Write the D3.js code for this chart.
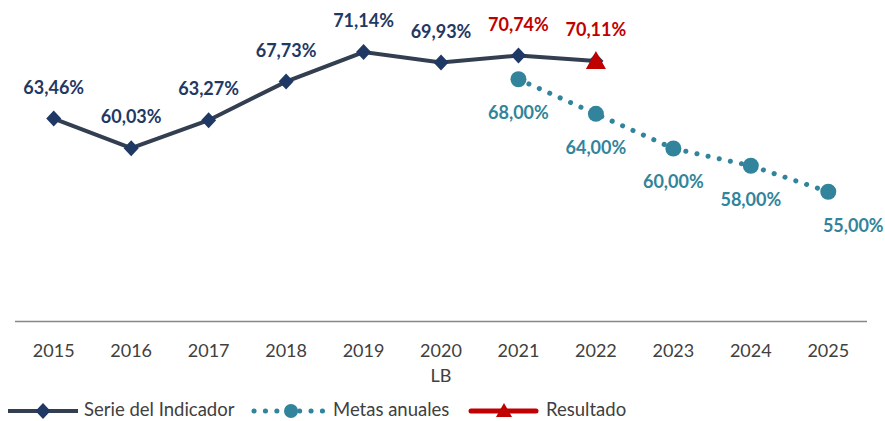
<!DOCTYPE html>
<html lang="es">
<head>
  <meta charset="UTF-8">
  <title>Serie del Indicador</title>
  <style>
    body { margin: 0; background: #fff; }
    svg { display: block; }
  </style>
</head>
<body>
<svg id="chart" width="885" height="421"></svg>
<script src="https://d3js.org/d3.v7.min.js"></script>
<script>
  // datos
  const years = ["2015", "2016", "2017", "2018", "2019", "2020", "2021", "2022", "2023", "2024", "2025"];
  const subLabels = { "2020": "LB" };
  const serieYears = ["2015", "2016", "2017", "2018", "2019", "2020", "2021", "2022"];
  const serieValues = [63.46, 60.03, 63.27, 67.73, 71.14, 69.93, 70.74, 70.11];
  const metasYears = ["2021", "2022", "2023", "2024", "2025"];
  const metasValues = [68.00, 64.00, 60.00, 58.00, 55.00];
  const resultadoYears = ["2022"];
  const resultadoValues = [70.11];
  const redLabelYears = ["2021", "2022"]; // etiquetas de la serie en rojo

  const navy = "#1F3864", lineCol = "#333F50", teal = "#31849B", red = "#C00000";
  const font = "Lato, 'Open Sans', sans-serif";

  const svg = d3.select("#chart");
  const x = d3.scaleBand().domain(years).range([15, 867]);
  const y = d3.scaleLinear().domain([40, 75]).range([321.5, 18.7]);
  const cx = d => x(d) + x.bandwidth() / 2;

  const fmt = v => d3.format(".2f")(v).replace(".", ",") + "%";
  const serie = serieYears.map((d, i) => ({ year: d, v: serieValues[i] }));
  const metas = metasYears.map((d, i) => ({ year: d, v: metasValues[i] }));
  const resultado = resultadoYears.map((d, i) => ({ year: d, v: resultadoValues[i] }));

  // eje x
  svg.append("line")
    .attr("x1", 15).attr("x2", 867)
    .attr("y1", y(40)).attr("y2", y(40))
    .attr("stroke", "#878787").attr("stroke-width", 1.5);

  svg.selectAll(".tick").data(years).join("text")
    .attr("x", cx).attr("y", 357)
    .attr("text-anchor", "middle")
    .attr("font-family", font).attr("font-size", 18)
    .attr("fill", "#404040")
    .text(d => d);

  svg.selectAll(".sub").data(Object.keys(subLabels)).join("text")
    .attr("x", cx).attr("y", 382)
    .attr("text-anchor", "middle")
    .attr("font-family", font).attr("font-size", 18)
    .attr("fill", "#404040")
    .text(d => subLabels[d]);

  const diamond = "M0,-8L7.5,0L0,8L-7.5,0Z";
  const line = d3.line().x(d => cx(d.year)).y(d => y(d.v));

  // metas anuales (punteada)
  svg.append("path").datum(metas)
    .attr("d", line)
    .attr("fill", "none").attr("stroke", teal)
    .attr("stroke-width", 5).attr("stroke-linecap", "round")
    .attr("stroke-dasharray", "0.1 11.3");
  svg.selectAll(".meta").data(metas).join("circle")
    .attr("cx", d => cx(d.year)).attr("cy", d => y(d.v))
    .attr("r", 8).attr("fill", teal);

  // serie del indicador
  svg.append("path").datum(serie)
    .attr("d", line)
    .attr("fill", "none").attr("stroke", lineCol)
    .attr("stroke-width", 4);
  svg.selectAll(".dia").data(serie).join("path")
    .attr("d", diamond)
    .attr("transform", d => `translate(${cx(d.year)},${y(d.v)})`)
    .attr("fill", navy);

  // resultado
  svg.selectAll(".res").data(resultado).join("path")
    .attr("d", "M0,-10L10,8L-10,8Z")
    .attr("transform", d => `translate(${cx(d.year)},${y(d.v)})`)
    .attr("fill", red);

  // etiquetas
  svg.selectAll(".lblS").data(serie).join("text")
    .attr("x", d => cx(d.year)).attr("y", d => y(d.v) - 25)
    .attr("text-anchor", "middle")
    .attr("font-family", font).attr("font-weight", "bold").attr("font-size", 18)
    .attr("fill", d => redLabelYears.includes(d.year) ? red : navy)
    .text(d => fmt(d.v));

  svg.selectAll(".lblM").data(metas).join("text")
    .attr("x", (d, i) => cx(d.year) + (i === metas.length - 1 ? 25 : 0))
    .attr("y", d => y(d.v) + 40)
    .attr("text-anchor", "middle")
    .attr("font-family", font).attr("font-weight", "bold").attr("font-size", 18)
    .attr("fill", teal)
    .text(d => fmt(d.v));

  // leyenda
  const legend = svg.append("g").attr("transform", "translate(0,411)");
  const items = [
    { name: "Serie del Indicador", x0: 8, tx: 76 },
    { name: "Metas anuales", x0: 251, tx: 82 },
    { name: "Resultado", x0: 468, tx: 78 }
  ];
  items.forEach((it, i) => {
    const g = legend.append("g").attr("transform", `translate(${it.x0},0)`);
    if (i === 0) {
      g.append("line").attr("x1", 0).attr("x2", 70).attr("stroke", lineCol).attr("stroke-width", 4);
      g.append("path").attr("d", diamond).attr("transform", "translate(35,0)").attr("fill", navy);
    } else if (i === 1) {
      g.append("line").attr("x1", 3).attr("x2", 72).attr("stroke", teal)
        .attr("stroke-width", 5).attr("stroke-linecap", "round").attr("stroke-dasharray", "0.1 11.3");
      g.append("circle").attr("cx", 40).attr("r", 7).attr("fill", teal);
    } else {
      g.append("line").attr("x1", 3).attr("x2", 68).attr("stroke", red)
        .attr("stroke-width", 5).attr("stroke-linecap", "round");
      g.append("path").attr("d", "M0,-8L8,6L-8,6Z").attr("transform", "translate(36,0)").attr("fill", red);
    }
    g.append("text")
      .attr("x", it.tx).attr("y", 5)
      .attr("font-family", font).attr("font-size", 18.5)
      .attr("fill", "#404040")
      .text(it.name);
  });
</script>
</body>
</html>
